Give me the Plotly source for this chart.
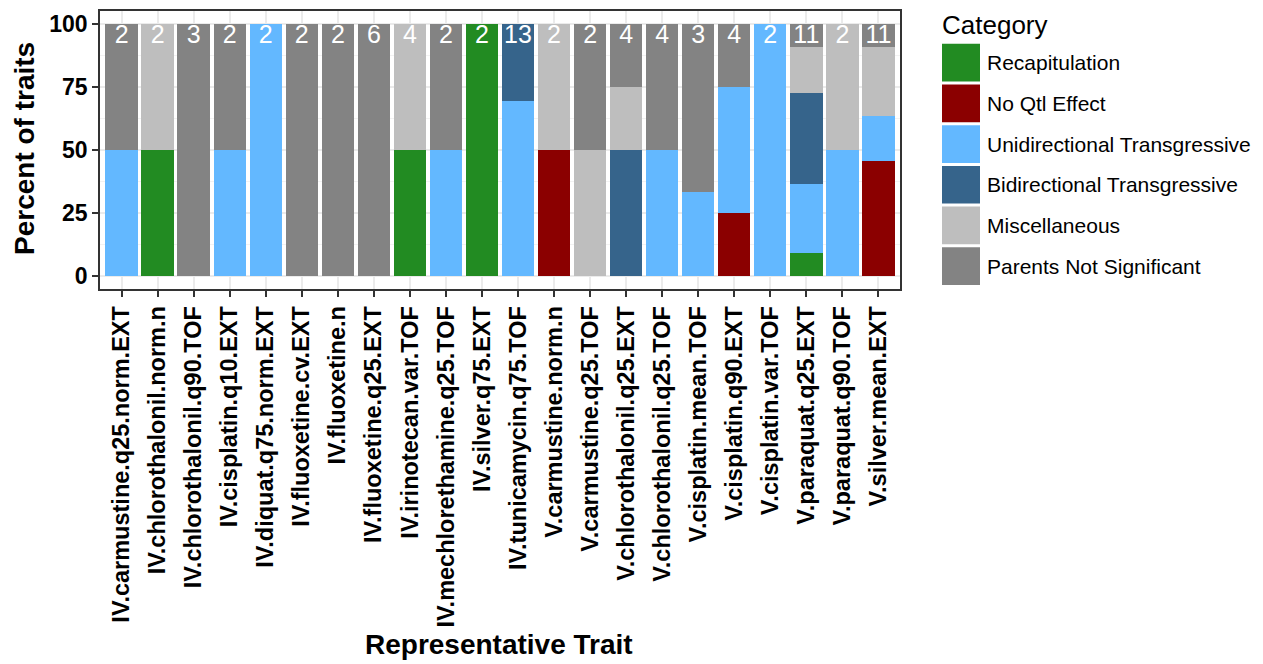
import plotly.graph_objects as go

traits = [
    "IV.carmustine.q25.norm.EXT", "IV.chlorothalonil.norm.n", "IV.chlorothalonil.q90.TOF",
    "IV.cisplatin.q10.EXT", "IV.diquat.q75.norm.EXT", "IV.fluoxetine.cv.EXT",
    "IV.fluoxetine.n", "IV.fluoxetine.q25.EXT", "IV.irinotecan.var.TOF",
    "IV.mechlorethamine.q25.TOF", "IV.silver.q75.EXT", "IV.tunicamycin.q75.TOF",
    "V.carmustine.norm.n", "V.carmustine.q25.TOF", "V.chlorothalonil.q25.EXT",
    "V.chlorothalonil.q25.TOF", "V.cisplatin.mean.TOF", "V.cisplatin.q90.EXT",
    "V.cisplatin.var.TOF", "V.paraquat.q25.EXT", "V.paraquat.q90.TOF", "V.silver.mean.EXT",
]

# counts of traits per category (bottom to top of the stack)
recapitulation = [0, 1, 0, 0, 0, 0, 0, 0, 2, 0, 2, 0, 0, 0, 0, 0, 0, 0, 0, 1, 0, 0]
no_qtl_effect = [0, 0, 0, 0, 0, 0, 0, 0, 0, 0, 0, 0, 1, 0, 0, 0, 0, 1, 0, 0, 0, 5]
unidirectional = [1, 0, 0, 1, 2, 0, 0, 0, 0, 1, 0, 9, 0, 0, 0, 2, 1, 2, 2, 3, 1, 2]
bidirectional = [0, 0, 0, 0, 0, 0, 0, 0, 0, 0, 0, 4, 0, 0, 2, 0, 0, 0, 0, 4, 0, 0]
miscellaneous = [0, 1, 0, 0, 0, 0, 0, 0, 2, 0, 0, 0, 1, 1, 1, 0, 0, 0, 0, 2, 1, 3]
parents_ns = [1, 0, 3, 1, 0, 2, 2, 6, 0, 1, 0, 0, 0, 1, 1, 2, 2, 1, 0, 1, 0, 1]

category_names = ["Recapitulation", "No Qtl Effect", "Unidirectional Transgressive",
                  "Bidirectional Transgressive", "Miscellaneous", "Parents Not Significant"]
category_counts = [recapitulation, no_qtl_effect, unidirectional, bidirectional,
                   miscellaneous, parents_ns]
category_colors = ["#228B22", "#8B0000", "#63B8FF", "#36648B", "#BEBEBE", "#838383"]

y_ticks = [0, 25, 50, 75, 100]

totals = [sum(c[i] for c in category_counts) for i in range(len(traits))]

FONT = "Liberation Sans"

fig = go.Figure()
for name, counts, color in zip(category_names, category_counts, category_colors):
    pct = [100.0 * c / t for c, t in zip(counts, totals)]
    fig.add_trace(go.Bar(x=traits, y=pct, name=name, marker=dict(color=color, line=dict(width=0)),
                         width=0.9, showlegend=False))

fig.add_trace(go.Scatter(x=traits, y=[94.8] * len(traits), mode="text",
                         text=[str(t) for t in totals],
                         textfont=dict(family=FONT, size=25, color="white"),
                         textposition="middle center", showlegend=False, hoverinfo="skip"))

# page has an 8px body margin; reference pixel coords are shifted by OFF
OFF = 8
W, H = 1263 - OFF, 664 - OFF
L, R, T, B = 100 - OFF, 363, 1, 375
pw, ph = W - L - R, H - T - B


def px_x(px):
    return (px - OFF - L) / pw


def px_y(py):
    return (H - B - (py - OFF)) / ph


fig.update_layout(
    width=W, height=H,
    margin=dict(l=L, r=R, t=T, b=B),
    barmode="stack",
    bargap=0.1,
    plot_bgcolor="white", paper_bgcolor="white",
    showlegend=False,
    font=dict(family=FONT, color="black"),
)

fig.update_xaxes(
    type="category", categoryorder="array", categoryarray=traits,
    range=[-0.6, len(traits) - 0.4],
    showgrid=True, gridcolor="#EBEBEB", gridwidth=1.5,
    ticks="outside", ticklen=6, tickwidth=2, tickcolor="#333333",
    tickangle=-90,
    tickfont=dict(family=FONT, size=23.5, color="black", weight="bold"),
    showline=True, linecolor="#333333", linewidth=1.5, mirror=True,
    zeroline=False,
)
fig.update_yaxes(
    range=[-5, 105],
    tickvals=y_ticks, ticktext=[str(v) for v in y_ticks],
    showgrid=True, gridcolor="#EBEBEB", gridwidth=1.5,
    minor=dict(tickvals=[12.5, 37.5, 62.5, 87.5], showgrid=True, gridcolor="#F2F2F2", gridwidth=1, ticks=""),
    ticks="outside", ticklen=6, tickwidth=2, tickcolor="#333333",
    tickfont=dict(family=FONT, size=23, color="black", weight="bold"),
    showline=True, linecolor="#333333", linewidth=1.5, mirror=True,
    zeroline=False,
)

annotations = [
    dict(text="<b>Percent of traits</b>", xref="paper", yref="paper", x=px_x(24), y=px_y(148),
         textangle=-90, showarrow=False, xanchor="center", yanchor="middle",
         font=dict(family=FONT, size=28, color="black")),
    dict(text="<b>Representative Trait</b>", xref="paper", yref="paper", x=px_x(499), y=px_y(647),
         showarrow=False, xanchor="center", yanchor="middle",
         font=dict(family=FONT, size=28, color="black")),
    dict(text="Category", xref="paper", yref="paper", x=px_x(940), y=px_y(23),
         showarrow=False, xanchor="left", yanchor="middle",
         font=dict(family=FONT, size=26, color="black")),
]
shapes = []
for i, (name, color) in enumerate(zip(category_names, category_colors)):
    top = 42 + i * 41
    shapes.append(dict(type="rect", xref="paper", yref="paper",
                       x0=px_x(942), x1=px_x(980), y0=px_y(top + 38), y1=px_y(top),
                       fillcolor=color, line=dict(width=0)))
    annotations.append(dict(text=name, xref="paper", yref="paper", x=px_x(985), y=px_y(top + 19),
                            showarrow=False, xanchor="left", yanchor="middle",
                            font=dict(family=FONT, size=21, color="black")))

fig.update_layout(annotations=annotations, shapes=shapes)

fig.write_html("out.html")
